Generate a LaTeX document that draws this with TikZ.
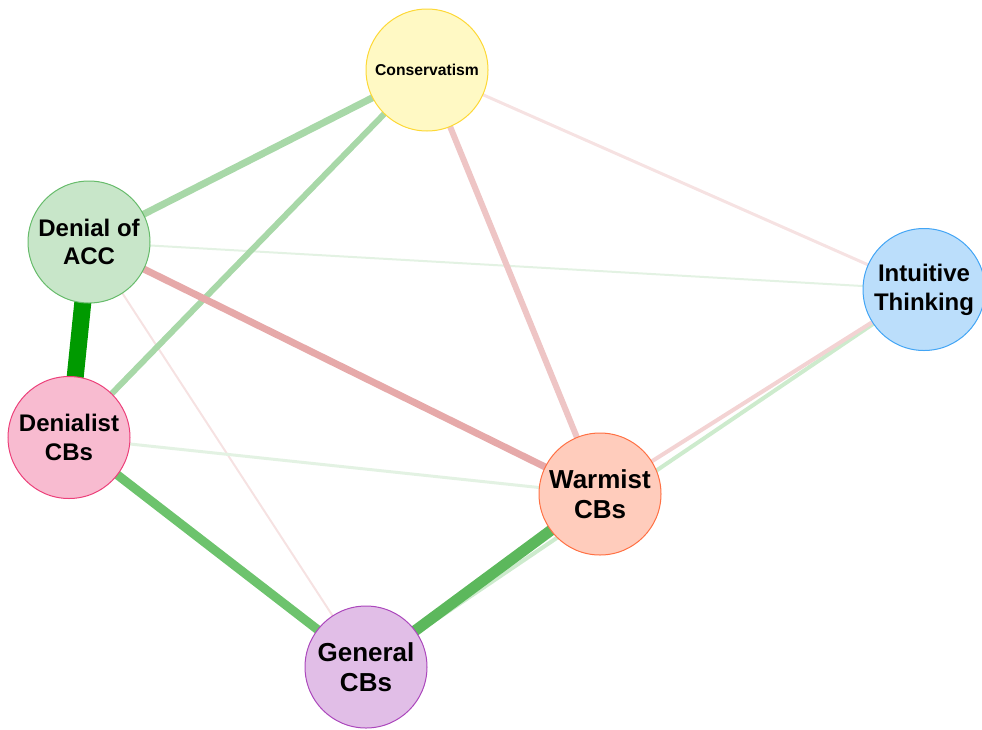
\documentclass[tikz,border=0pt]{standalone}
\usepackage{fontspec}
\setmainfont{Liberation Sans}
\usetikzlibrary{backgrounds}

\definecolor{consfill}{HTML}{FFF9C4}\definecolor{consline}{HTML}{FDD835}
\definecolor{accfill}{HTML}{C8E6C9}\definecolor{accline}{HTML}{66BB6A}
\definecolor{intfill}{HTML}{BBDEFB}\definecolor{intline}{HTML}{42A5F5}
\definecolor{denfill}{HTML}{F8BBD0}\definecolor{denline}{HTML}{EC407A}
\definecolor{warmfill}{HTML}{FFCCBC}\definecolor{warmline}{HTML}{FF7043}
\definecolor{genfill}{HTML}{E1BEE7}\definecolor{genline}{HTML}{AB47BC}

\definecolor{gdark}{HTML}{009A00}
\definecolor{gmid}{HTML}{5CB85C}
\definecolor{gmid2}{HTML}{6DC36D}
\definecolor{glight}{HTML}{A8D8A8}
\definecolor{gpale}{HTML}{CDEBCD}
\definecolor{gfaint}{HTML}{E3F2E3}
\definecolor{rmid}{HTML}{E6A9A9}
\definecolor{rlight}{HTML}{EEC5C5}
\definecolor{rpale}{HTML}{F3D3D3}
\definecolor{rfaint}{HTML}{F6E2E2}

\tikzset{
  var/.style={circle, minimum size=122pt, inner sep=0pt, line width=1pt,
    align=center, font=\bfseries\fontsize{24}{29}\selectfont},
  bigvar/.style={var, font=\bfseries\fontsize{26}{30.5}\selectfont},
  edge/.style={line cap=butt}
}

\begin{document}
\begin{tikzpicture}[x=1pt, y=-1pt]
\useasboundingbox (0,0) rectangle (982,729);

% variables
\node[var, fill=consfill, draw=consline, font=\bfseries\fontsize{15.7}{18}\selectfont] (cons) at (427,70) {Conservatism};
\node[var, fill=accfill, draw=accline, font=\bfseries\fontsize{24}{27.5}\selectfont] (acc) at (89,242) {Denial of\\ACC};
\node[var, fill=intfill, draw=intline] (intu) at (924,289.5) {Intuitive\\Thinking};
\node[var, fill=denfill, draw=denline] (den) at (69,437.5) {Denialist\\CBs};
\node[bigvar, fill=warmfill, draw=warmline] (warm) at (600,494) {Warmist\\CBs};
\node[bigvar, fill=genfill, draw=genline] (gen) at (366,667) {General\\CBs};

% weighted connections, drawn beneath the variables
\begin{pgfonlayer}{background}
\draw[edge, gfaint, line width=2pt] (acc.center) -- (intu.center);
\draw[edge, rfaint, line width=2pt] (acc.center) -- (gen.center);
\draw[edge, rfaint, line width=3pt] (cons.center) -- (intu.center);
\draw[edge, gfaint, line width=3pt] (den.center) -- (warm.center);
\draw[edge, gpale, line width=4pt] (intu.center) -- (gen.center);
\draw[edge, rpale, line width=4pt] (intu.center) -- (warm.center);
\draw[edge, rlight, line width=6pt] (cons.center) -- (warm.center);
\draw[edge, glight, line width=6pt] (cons.center) -- (den.center);
\draw[edge, glight, line width=7pt] (cons.center) -- (acc.center);
\draw[edge, rmid, line width=7pt] (acc.center) -- (warm.center);
\draw[edge, gmid2, line width=9pt] (den.center) -- (gen.center);
\draw[edge, gmid, line width=11pt] (warm.center) -- (gen.center);
\draw[edge, gdark, line width=17pt] (acc.center) -- (den.center);
\end{pgfonlayer}
\end{tikzpicture}
\end{document}
